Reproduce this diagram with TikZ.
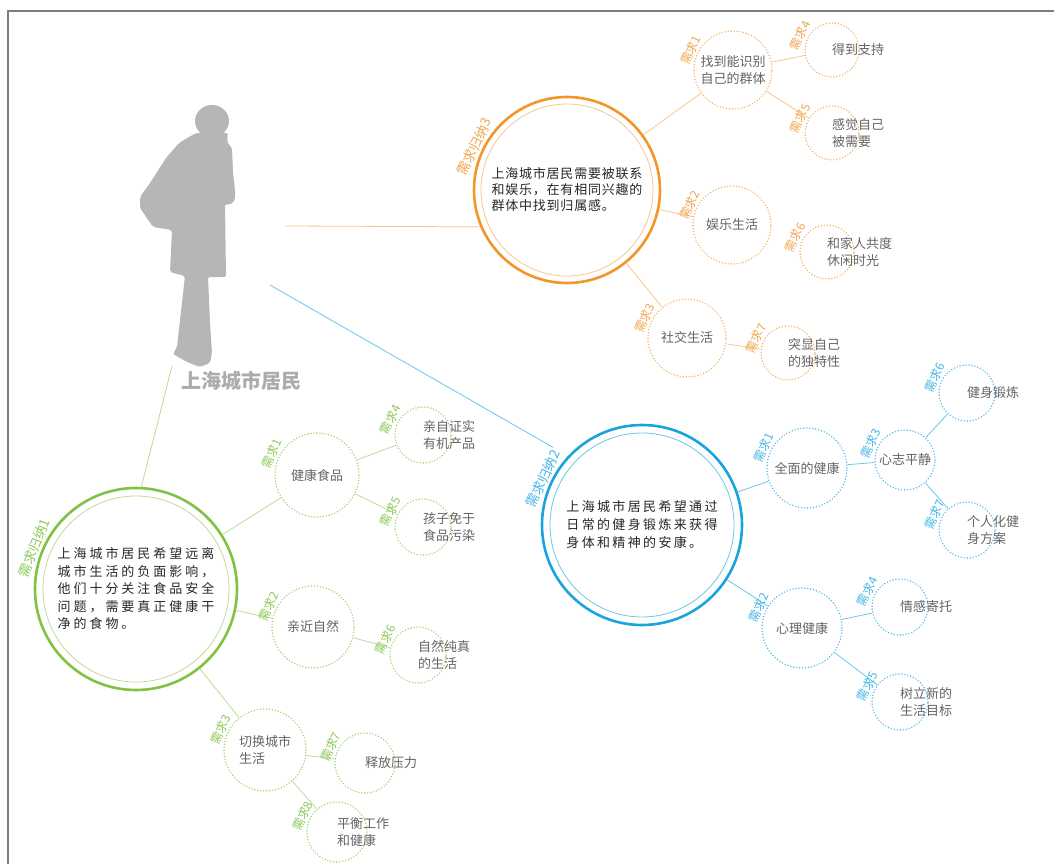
\documentclass[tikz,border=0pt]{standalone}
\usepackage{fontspec}
\setmainfont{Noto Sans CJK SC}
\usetikzlibrary{calc}
\definecolor{orgring}{RGB}{243,150,42}
\definecolor{orgline}{RGB}{247,198,140}
\definecolor{orgdot}{RGB}{244,178,100}
\definecolor{orgtag}{RGB}{241,165,80}
\definecolor{bluring}{RGB}{25,164,222}
\definecolor{bluline}{RGB}{105,198,236}
\definecolor{bludot}{RGB}{80,186,232}
\definecolor{blutag}{RGB}{70,182,230}
\definecolor{grnring}{RGB}{128,194,66}
\definecolor{grnline}{RGB}{188,220,152}
\definecolor{grndot}{RGB}{160,208,115}
\definecolor{grntag}{RGB}{140,200,90}
\definecolor{figgray}{RGB}{182,182,182}
\definecolor{figtxt}{RGB}{172,172,172}
\definecolor{leaftxt}{RGB}{100,100,100}
\definecolor{framegray}{RGB}{125,125,125}

\tikzset{
  bigring/.style={circle, draw=#1, line width=2.6pt, inner sep=0pt, align=left, text=black!85},
  midring/.style={circle, draw=#1, line width=1.6pt, dash pattern=on 0pt off 3pt, line cap=round,
    minimum size=78pt, inner sep=0pt, align=center, text=leaftxt, font=\fontsize{13}{17}\selectfont},
  leafring/.style={midring=#1, minimum size=56pt, text width=0pt, align=left},
  needtag/.style={rotate=65, anchor=south, inner sep=1.5pt, text=#1, font=\fontsize{12}{12}\selectfont},
  link/.style={draw=#1, line width=0.8pt},
}

\begin{document}
\begin{tikzpicture}[x=1pt, y=-1pt]
\useasboundingbox (0,0) rectangle (1054,864);

%% ── frame ────────────────────────────────────────────────────────
\draw[framegray, line width=2pt] (1058,11) -- (8,11) -- (8,868);

%% ── resident silhouette ──────────────────────────────────────────
\fill[figgray] (212,121) ellipse [x radius=17, y radius=16];
\fill[figgray, rounded corners=2pt]
  (196,133) -- (189,137) -- (179,143) -- (166,158) -- (150,183) -- (140,197) -- (140,208)
  -- (153,227) -- (172,230) -- (170,272) -- (185,276) -- (177,347) -- (173,354) -- (187,362)
  -- (200,367) -- (210,363) -- (212,353) -- (210,323) -- (208,277) -- (226,277) -- (225,204)
  -- (230,205) -- (235,200) -- (235,190) -- (233,173) -- (232,148) -- (227,142) -- (228,133) -- cycle;
\node[font=\fontsize{20}{20}\selectfont\bfseries, text=figtxt] (who) at (241,381) {上海城市居民};

\coordinate (p3) at (285,226);
\coordinate (p2) at (270,285);
\coordinate (p1) at (172,366);

%% ── need summary 3 (orange) ──────────────────────────────────────
\node[bigring=orgring, minimum size=186pt, font=\fontsize{13}{16}\selectfont\addfontfeatures{LetterSpace=6}]
  (sum3) at (567,190) {上海城市居民需要被联系\\和娱乐，在有相同兴趣的\\群体中找到归属感。};
\draw[orgline, line width=0.8pt] (sum3.center) circle[radius=86];

\node[midring=orgdot] (o1) at (733,70) {找到能识别\\自己的群体};
\node[midring=orgdot] (o2) at (732,225) {娱乐生活};
\node[midring=orgdot] (o3) at (687,338) {社交生活};
\node[leafring=orgdot, minimum size=54pt] (o4) at (832,50) {得到支持};
\node[leafring=orgdot, minimum size=54pt] (o5) at (832,133) {感觉自己\\被需要};
\node[leafring=orgdot, minimum size=54pt] (o6) at (827,252) {和家人共度\\休闲时光};
\node[leafring=orgdot, minimum size=54pt] (o7) at (788,353) {突显自己\\的独特性};

\draw[link=orgline] (p3) -- (sum3.203);
\foreach \a/\b in {sum3/o1, sum3/o2, sum3/o3, o1/o4, o1/o5, o3/o7}
  \draw[link=orgline] (\a) -- (\b);

%% ── need summary 2 (blue) ────────────────────────────────────────
\node[bigring=bluring, minimum size=200pt, font=\fontsize{13}{18}\selectfont\addfontfeatures{LetterSpace=18}]
  (sum2) at (642,525) {上海城市居民希望通过\\日常的健身锻炼来获得\\身体和精神的安康。};
\draw[bluline, line width=0.8pt] (sum2.center) circle[radius=92];

\node[midring=bludot, minimum size=80pt] (b1) at (807,468) {全面的健康};
\node[midring=bludot, minimum size=80pt] (b2) at (802,628) {心理健康};
\node[midring=bludot, minimum size=60pt] (b3) at (905,460) {心志平静};
\node[leafring=bludot] (b4) at (900,607) {情感寄托};
\node[leafring=bludot] (b5) at (900,702) {树立新的\\生活目标};
\node[leafring=bludot] (b6) at (967,393) {健身锻炼};
\node[leafring=bludot] (b7) at (967,530) {个人化健\\身方案};

\draw[link=bluline, shorten >=17pt] (p2) -- (sum2.137);
\foreach \a/\b in {sum2/b1, sum2/b2, b1/b3, b3/b6, b3/b7, b2/b4, b2/b5}
  \draw[link=bluline] (\a) -- (\b);

%% ── need summary 1 (green) ───────────────────────────────────────
\node[bigring=grnring, minimum size=202pt, font=\fontsize{13}{17.5}\selectfont\addfontfeatures{LetterSpace=23}]
  (sum1) at (136,589) {上海城市居民希望远离\\城市生活的负面影响，\\他们十分关注食品安全\\问题，需要真正健康干\\净的食物。};
\draw[grnline, line width=0.8pt] (sum1.center) circle[radius=93];

\node[midring=grndot, minimum size=84pt] (g1) at (317,475) {健康食品};
\node[midring=grndot, minimum size=82pt] (g2) at (313,627) {亲近自然};
\node[midring=grndot, minimum size=82pt, align=left] (g3) at (265,750) {切换城市\\生活};
\node[leafring=grndot] (g4) at (423,435) {亲自证实\\有机产品};
\node[leafring=grndot] (g5) at (423,527) {孩子免于\\食品污染};
\node[leafring=grndot] (g6) at (418,655) {自然纯真\\的生活};
\node[leafring=grndot, minimum size=60pt] (g7) at (365,763) {释放压力};
\node[leafring=grndot, minimum size=60pt] (g8) at (337,832) {平衡工作\\和健康};

\draw[link=grnline] (p1) -- (sum1.87);
\foreach \a/\b in {sum1/g1, sum1/g2, sum1/g3, g1/g4, g1/g5, g2/g6, g3/g7, g3/g8}
  \draw[link=grnline] (\a) -- (\b);

%% ── need tags along the rings ────────────────────────────────────
\foreach \n/\k in {o1/1, o2/2, o3/3, o4/4, o5/5, o6/6, o7/7}
  \node[needtag=orgtag] (tag-\n) at (\n.155) {需求\k};
\foreach \n/\k in {b1/1, b2/2, b3/3, b4/4, b5/5, b6/6, b7/7}
  \node[needtag=blutag] (tag-\n) at (\n.155) {需求\k};
\foreach \n/\k in {g1/1, g2/2, g3/3, g4/4, g5/5, g6/6, g7/7, g8/8}
  \node[needtag=grntag] (tag-\n) at (\n.155) {需求\k};

\node[needtag=orgtag, font=\fontsize{13.5}{14}\selectfont] (tag-sum3) at (sum3.155) {需求归纳3};
\node[needtag=blutag, font=\fontsize{13.5}{14}\selectfont] (tag-sum2) at (sum2.155) {需求归纳2};
\node[needtag=grntag, font=\fontsize{13.5}{14}\selectfont, rotate=3] (tag-sum1) at (sum1.158) {需求归纳1};

\end{tikzpicture}
\end{document}
